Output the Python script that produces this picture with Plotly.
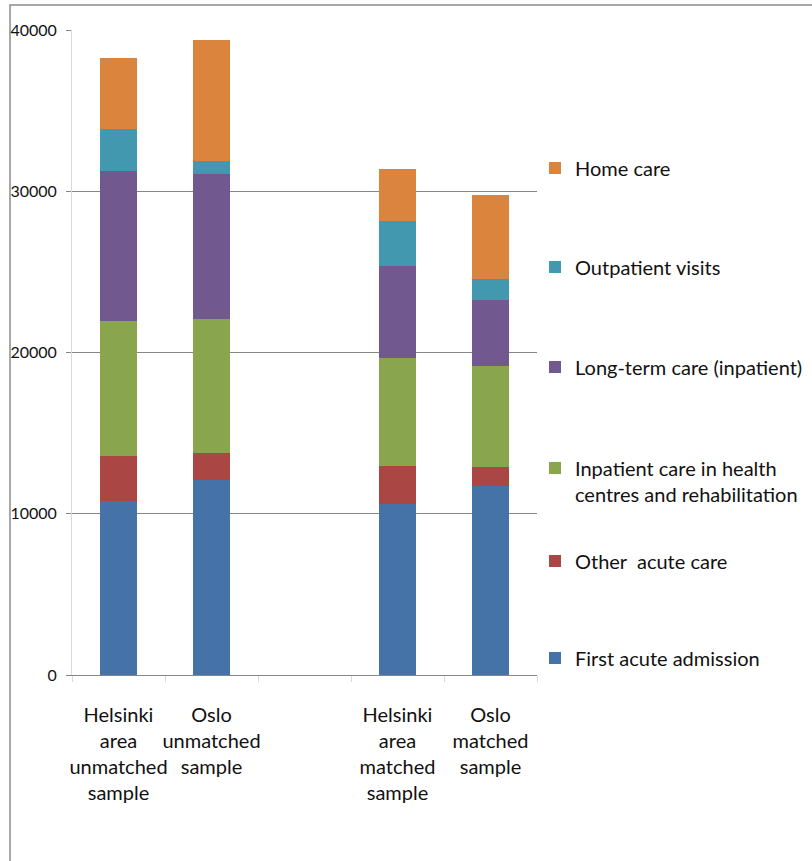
import plotly.graph_objects as go

# Sample groups (a blank slot separates unmatched from matched samples)
categories = [
    "Helsinki<br>area<br>unmatched<br>sample",
    "Oslo<br>unmatched<br>sample",
    " ",
    "Helsinki<br>area<br>matched<br>sample",
    "Oslo<br>matched<br>sample",
]

# Cost components per group (stacked bottom to top)
first_acute = [10780, 12080, None, 10590, 11710]
other_acute = [2810, 1670, None, 2360, 1180]
inpatient_hc = [8340, 8350, None, 6690, 6250]
long_term = [9300, 8940, None, 5740, 4090]
outpatient = [2620, 810, None, 2750, 1310]
home_care = [4400, 7540, None, 3260, 5240]

series_names = [
    "First acute admission",
    "Other  acute care",
    "Inpatient care in health<br>centres and rehabilitation",
    "Long-term care (inpatient)",
    "Outpatient visits",
    "Home care",
]
series_values = [first_acute, other_acute, inpatient_hc, long_term, outpatient, home_care]
colors = ["#4572A7", "#AA4643", "#89A54E", "#71588F", "#4198AF", "#DB843D"]

FONT = "Lato, Liberation Sans, sans-serif"

W, H = 812, 861
L, R, T, B = 72, 275, 30, 186
plot_h = H - T - B
plot_w = W - L - R

def py(px):
    """Convert a pixel row to paper y."""
    return 1 - (px - T) / plot_h

def pxx(px):
    """Convert a pixel column to paper x."""
    return (px - L) / plot_w

# Legend text centre rows, one legend per series
legend_rows = [658, 561, 481, 367, 267, 168]

fig = go.Figure()
for i, (name, vals, col) in enumerate(zip(series_names, series_values, colors)):
    lg = "legend" if i == 0 else f"legend{i + 1}"
    fig.add_trace(go.Bar(
        x=categories, y=vals, name=name, marker=dict(color=col, line=dict(width=0)),
        legend=lg,
    ))

legend_common = dict(
    x=pxx(535), xanchor="left", yanchor="middle",
    font=dict(family=FONT, size=20, color="#111111"),
    bgcolor="rgba(0,0,0,0)", itemwidth=30, valign="top",
)
layout_legends = {}
for i, row in enumerate(legend_rows):
    key = "legend" if i == 0 else f"legend{i + 1}"
    layout_legends[key] = dict(legend_common, y=py(row))

fig.update_layout(
    width=W, height=H,
    margin=dict(l=L, r=R, t=T, b=B, pad=0, autoexpand=False),
    paper_bgcolor="white", plot_bgcolor="white",
    barmode="stack", bargap=0.6,
    showlegend=True,
    font=dict(family=FONT, color="#111111"),
    xaxis=dict(
        type="category", categoryorder="array", categoryarray=categories,
        tickson="boundaries", ticks="outside", ticklen=6, tickcolor="#d9d9d9",
        showline=True, linecolor="#868686", linewidth=1, tickangle=0,
        showgrid=False, tickfont=dict(family=FONT, size=20, color="#111111"),
        ticklabelstandoff=22,
        fixedrange=True, automargin=False,
    ),
    yaxis=dict(
        range=[0, 40000], tickvals=[0, 10000, 20000, 30000, 40000],
        ticktext=["0", "10000", "20000", "30000", "40000"],
        ticks="outside", ticklen=5, tickcolor="#868686",
        showline=True, linecolor="#d9d9d9", linewidth=1,
        gridcolor="#868686", gridwidth=1, zeroline=False,
        tickfont=dict(family=FONT, size=16, color="#111111"),
        ticklabelstandoff=6, automargin=False,
    ),
    **layout_legends,
)

# Frame around the chart area
fig.add_shape(
    type="rect", xref="paper", yref="paper",
    x0=pxx(10), y0=py(H + 20), x1=pxx(W + 20), y1=py(5),
    line=dict(color="#8c8c8c", width=1.5), fillcolor="rgba(0,0,0,0)", layer="below",
)

fig.write_html("out.html")
